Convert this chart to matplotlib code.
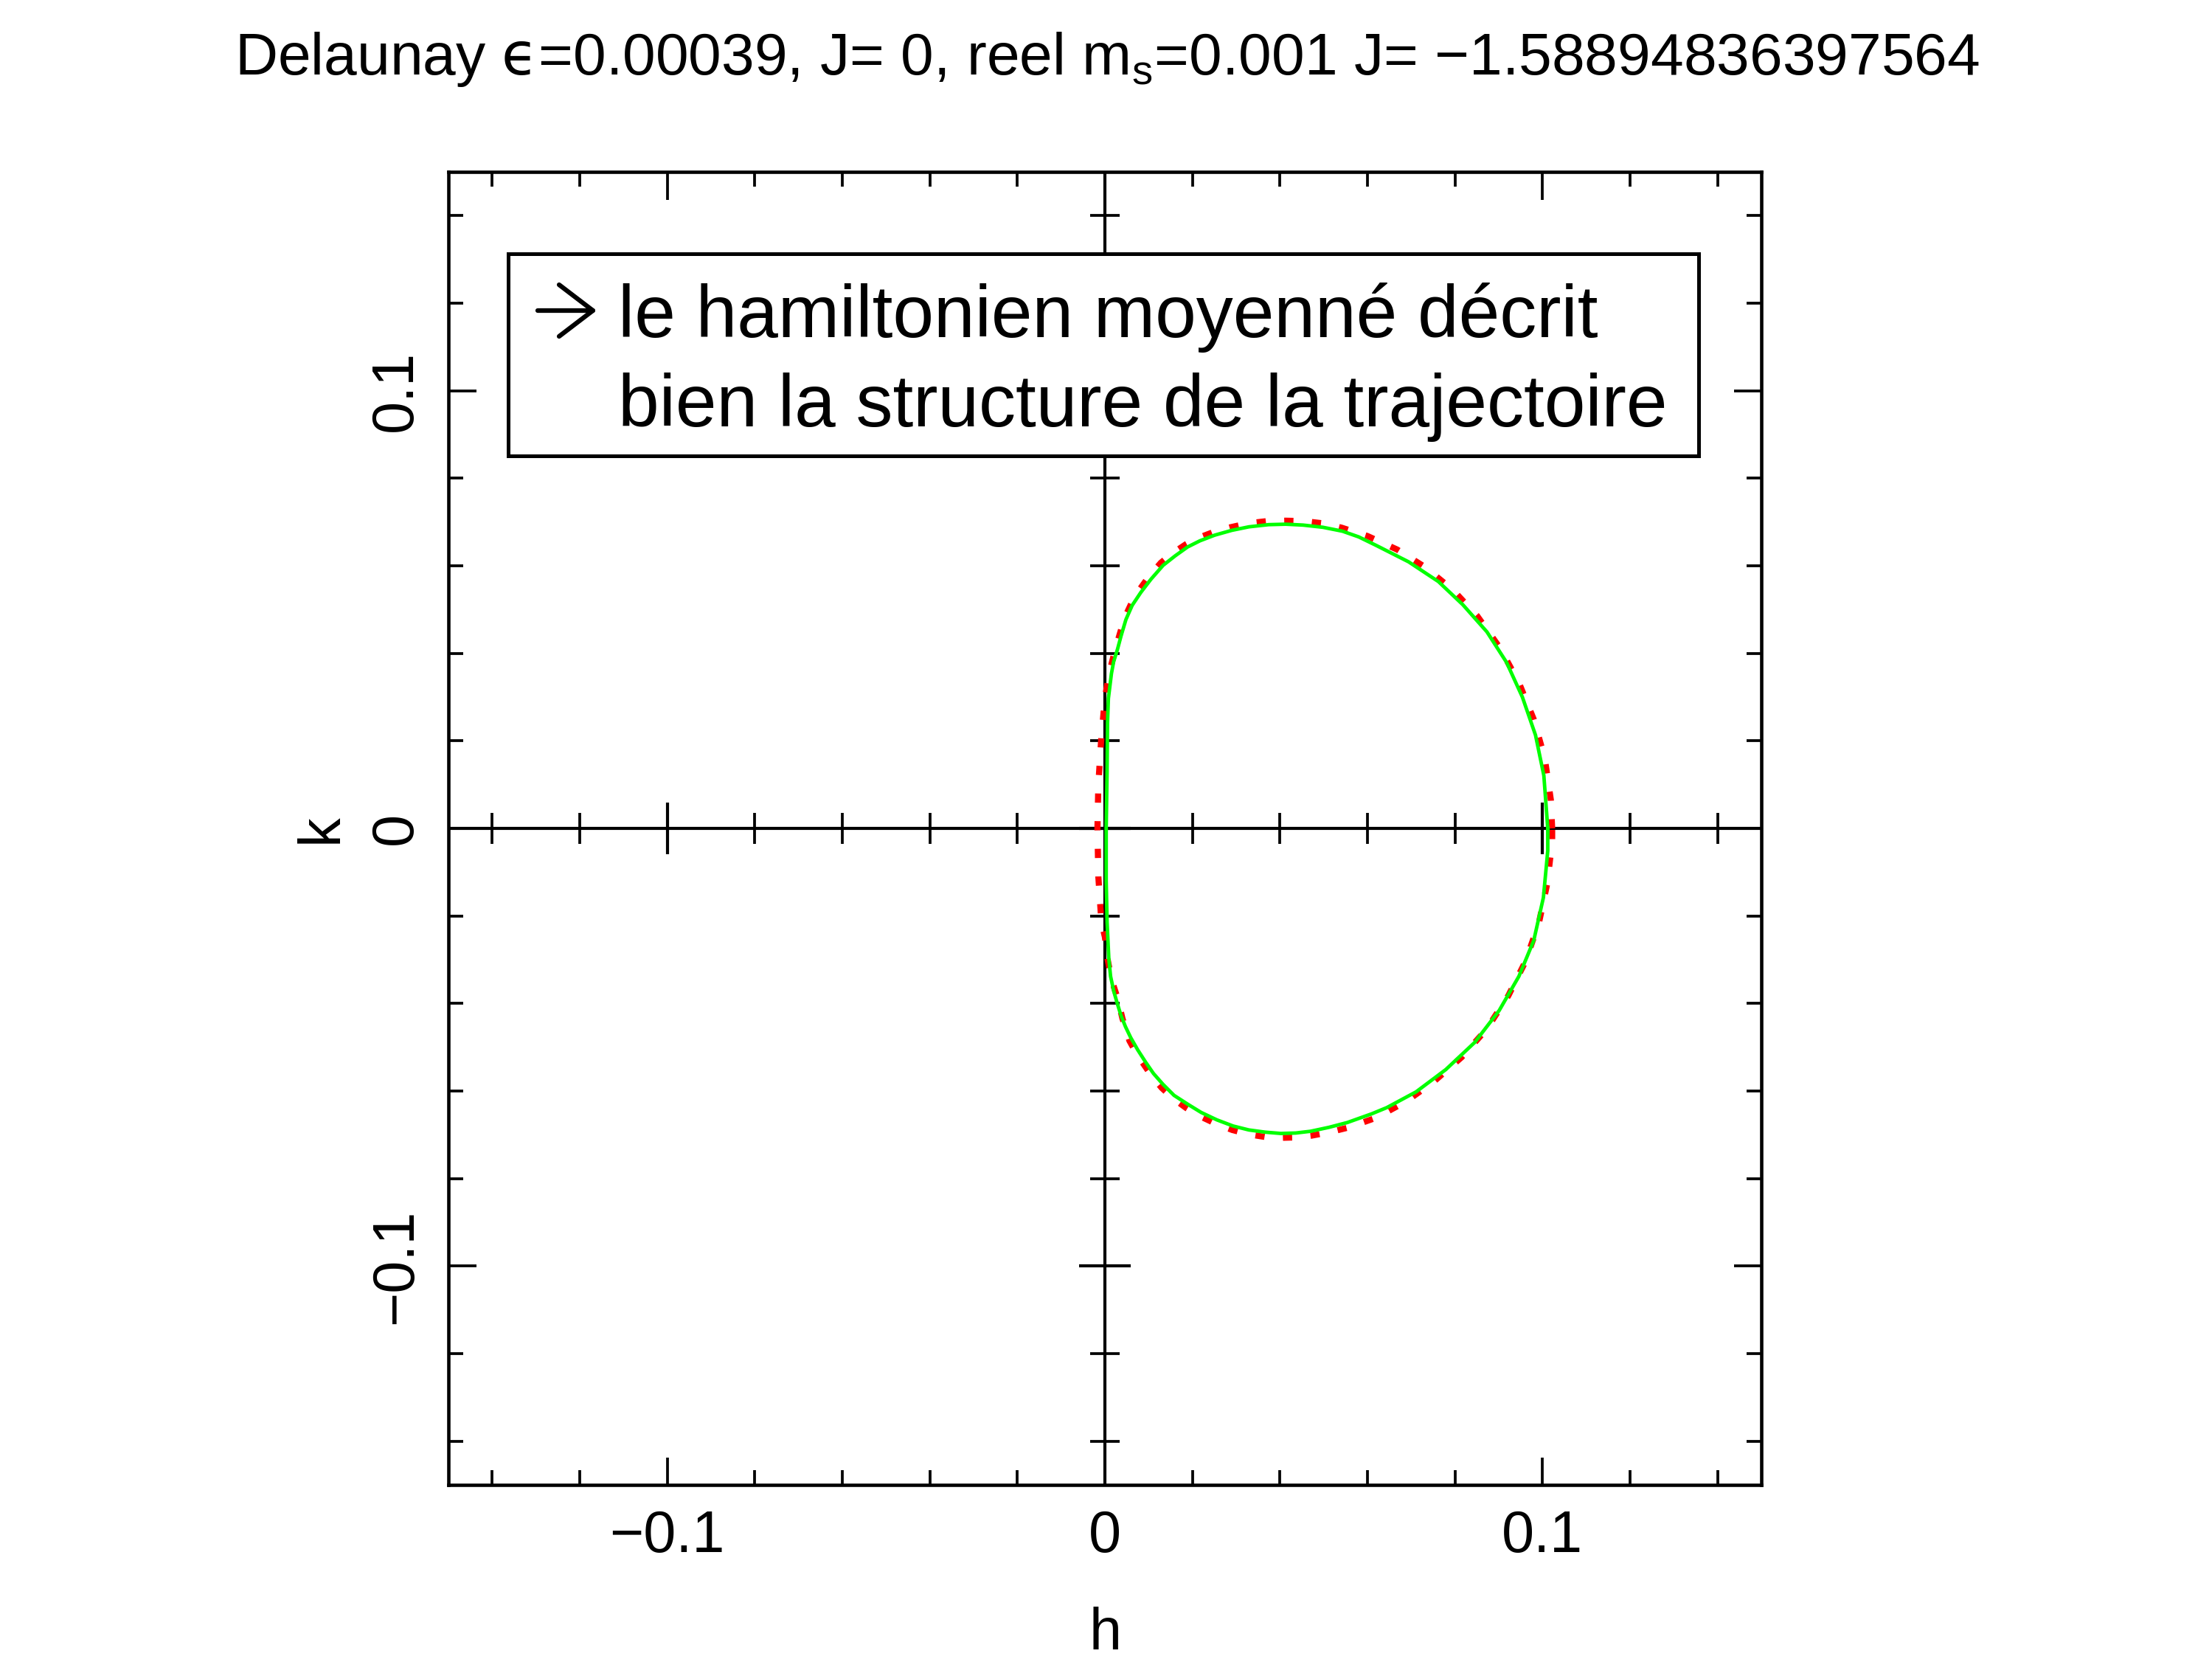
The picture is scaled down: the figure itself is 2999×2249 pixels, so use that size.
import numpy as np
import matplotlib.pyplot as plt
from matplotlib.patches import Rectangle, FancyArrowPatch

plt.rcParams['font.family'] = ['Liberation Sans', 'DejaVu Sans']

# trajectoire (trait vert) et hamiltonien moyenne (pointille rouge)
h_vert = [0.1012, 0.1003, 0.0984, 0.0954, 0.0918, 0.0873, 0.0818, 0.0762, 0.0694, 0.0621,
          0.0580, 0.0543, 0.0498, 0.0453, 0.0413, 0.0374, 0.0329, 0.0290, 0.0251, 0.0217,
          0.0189, 0.0161, 0.0133, 0.0105, 0.0082, 0.0062, 0.0048, 0.0037, 0.0029, 0.0020,
          0.0015, 0.0008, 0.0006, 0.0005, 0.0003,
          0.0003, 0.0005, 0.0009, 0.0013, 0.0020, 0.0028, 0.0037, 0.0047, 0.0059, 0.0075,
          0.0093, 0.0111, 0.0133, 0.0158, 0.0189, 0.0220, 0.0256, 0.0293, 0.0329, 0.0366,
          0.0402, 0.0436, 0.0470, 0.0512, 0.0554, 0.0610, 0.0644, 0.0711, 0.0779, 0.0845,
          0.0901, 0.0946, 0.0980, 0.1002, 0.1012, 0.1012]
k_vert = [0.0, 0.0121, 0.0213, 0.0300, 0.0379, 0.0449, 0.0511, 0.0564, 0.0609, 0.0646,
          0.0666, 0.0679, 0.0688, 0.0693, 0.0695, 0.0694, 0.0689, 0.0681, 0.0670, 0.0657,
          0.0643, 0.0623, 0.0601, 0.0569, 0.0539, 0.0509, 0.0477, 0.0440, 0.0410, 0.0381,
          0.0354, 0.0297, 0.0241, 0.0129, 0.0,
          -0.0120, -0.0214, -0.0298, -0.0338, -0.0371, -0.0399, -0.0428, -0.0453, -0.0478, -0.0506,
          -0.0534, -0.0560, -0.0585, -0.0610, -0.0630, -0.0649, -0.0666, -0.0680, -0.0689, -0.0694,
          -0.0697, -0.0696, -0.0692, -0.0683, -0.0672, -0.0652, -0.0638, -0.0602, -0.0551, -0.0489,
          -0.0416, -0.0338, -0.0256, -0.0158, -0.0051, 0.0]

h_rouge = [0.1022, 0.1019, 0.1005, 0.0980, 0.0946, 0.0903, 0.0851, 0.0795, 0.0730, 0.0668,
           0.0600, 0.0541, 0.0498, 0.0455, 0.0413, 0.0370, 0.0327, 0.0287, 0.0248, 0.0214,
           0.0185, 0.0155, 0.0128, 0.0101, 0.0078, 0.0060, 0.0045, 0.0025, 0.0010, 0.0000,
           -0.0008, -0.0015, -0.0017, -0.0015, -0.0008, 0.0000, 0.0006, 0.0015, 0.0029, 0.0040,
           0.0056, 0.0072, 0.0090, 0.0108, 0.0130, 0.0156, 0.0186, 0.0218, 0.0254, 0.0291,
           0.0329, 0.0366, 0.0402, 0.0436, 0.0472, 0.0514, 0.0558, 0.0620, 0.0688, 0.0751,
           0.0815, 0.0872, 0.0922, 0.0961, 0.0992, 0.1011, 0.1022, 0.1022]
k_rouge = [0.0, 0.0065, 0.0161, 0.0249, 0.0333, 0.0412, 0.0485, 0.0545, 0.0598, 0.0637,
           0.0668, 0.0687, 0.0697, 0.0702, 0.0703, 0.0702, 0.0697, 0.0688, 0.0677, 0.0664,
           0.0649, 0.0629, 0.0607, 0.0576, 0.0544, 0.0513, 0.0481, 0.0414, 0.0356, 0.0297,
           0.0210, 0.0100, 0.0, -0.0110, -0.0214, -0.0248, -0.0298, -0.0345, -0.0388, -0.0434,
           -0.0485, -0.0514, -0.0541, -0.0567, -0.0593, -0.0617, -0.0639, -0.0658, -0.0675, -0.0689,
           -0.0699, -0.0705, -0.0707, -0.0706, -0.0702, -0.0694, -0.0683, -0.0661, -0.0624, -0.0579,
           -0.0523, -0.0459, -0.0382, -0.0304, -0.0215, -0.0125, -0.0029, 0.0]

ticks = [-0.1, 0, 0.1]
tick_labels = ['\u22120.1', '0', '0.1']
petits_ticks = [-0.14, -0.12, -0.08, -0.06, -0.04, -0.02, 0.02, 0.04, 0.06, 0.08, 0.12, 0.14]
grands_ticks = [-0.1, 0.1]

titre = 'Delaunay $\\mathrm{\u03f5}$=0.00039, J= 0, reel m$_\\mathregular{s}$=0.001 J= \u22121.58894836397564'
ligne1 = 'le hamiltonien moyenné décrit'
ligne2 = 'bien la structure de la trajectoire'

W, H = 2999, 2249
fig = plt.figure(figsize=(W / 300, H / 300), dpi=300)
ax = fig.add_axes([608 / W, 1 - 2013 / H, 1780 / W, 1780 / H])

ax.plot(h_rouge, k_rouge, color='#ff0000', lw=2.0, dashes=(1.5, 3.0), zorder=3)
ax.plot(h_vert, k_vert, color='#00ff00', lw=1.15, zorder=4)

# axes passant par l'origine, avec leurs graduations
ax.axhline(0, color='k', lw=1.0, zorder=2)
ax.axvline(0, color='k', lw=1.0, zorder=2)
ax.plot(petits_ticks, np.zeros(len(petits_ticks)), ls='none', marker='|', ms=10, mew=0.9, color='k', zorder=2)
ax.plot(grands_ticks, np.zeros(len(grands_ticks)), ls='none', marker='|', ms=17, mew=1.0, color='k', zorder=2)
ax.plot(np.zeros(len(petits_ticks)), petits_ticks, ls='none', marker='_', ms=9.5, mew=0.9, color='k', zorder=2)
ax.plot(np.zeros(3), ticks, ls='none', marker='_', ms=17, mew=1.0, color='k', zorder=2)

ax.set_xlim(-0.15, 0.15)
ax.set_ylim(-0.15, 0.15)
ax.set_xticks(ticks)
ax.set_xticklabels(tick_labels)
ax.set_yticks(ticks)
ax.set_yticklabels(tick_labels, rotation=90, va='center')
ax.set_xticks(petits_ticks, minor=True)
ax.set_yticks(petits_ticks, minor=True)
ax.tick_params(which='both', direction='in', top=True, right=True, width=0.9, colors='k')
ax.tick_params(which='major', length=9, pad=8, labelsize=19)
ax.tick_params(which='minor', length=4.8)
for s in ax.spines.values():
    s.set_linewidth(1.1)

ax.set_xlabel('h', fontsize=19, va='center')
ax.xaxis.set_label_coords(0.5, -0.1135)
ax.set_ylabel('k', fontsize=19, va='center')
ax.yaxis.set_label_coords(-0.0966, 0.5)

fig.text(1501 / W, 1 - 101 / H, titre, ha='center', va='baseline', fontsize=19.3)

fig.add_artist(Rectangle((689 / W, 1 - 618 / H), (2303 - 689) / W, (618 - 344) / H,
                         transform=fig.transFigure, facecolor='white', edgecolor='black', lw=1.2))
fig.add_artist(FancyArrowPatch((729 / W, 1 - 421 / H), (809 / W, 1 - 421 / H),
                               transform=fig.transFigure, arrowstyle='->,head_length=11,head_width=8.4',
                               mutation_scale=1, shrinkA=0, shrinkB=0, lw=1.5, color='k', zorder=3))
fig.text(838 / W, 1 - 457 / H, ligne1, fontsize=24, va='baseline')
fig.text(838 / W, 1 - 578 / H, ligne2, fontsize=24, va='baseline')

fig.savefig('out.png', dpi=300)
